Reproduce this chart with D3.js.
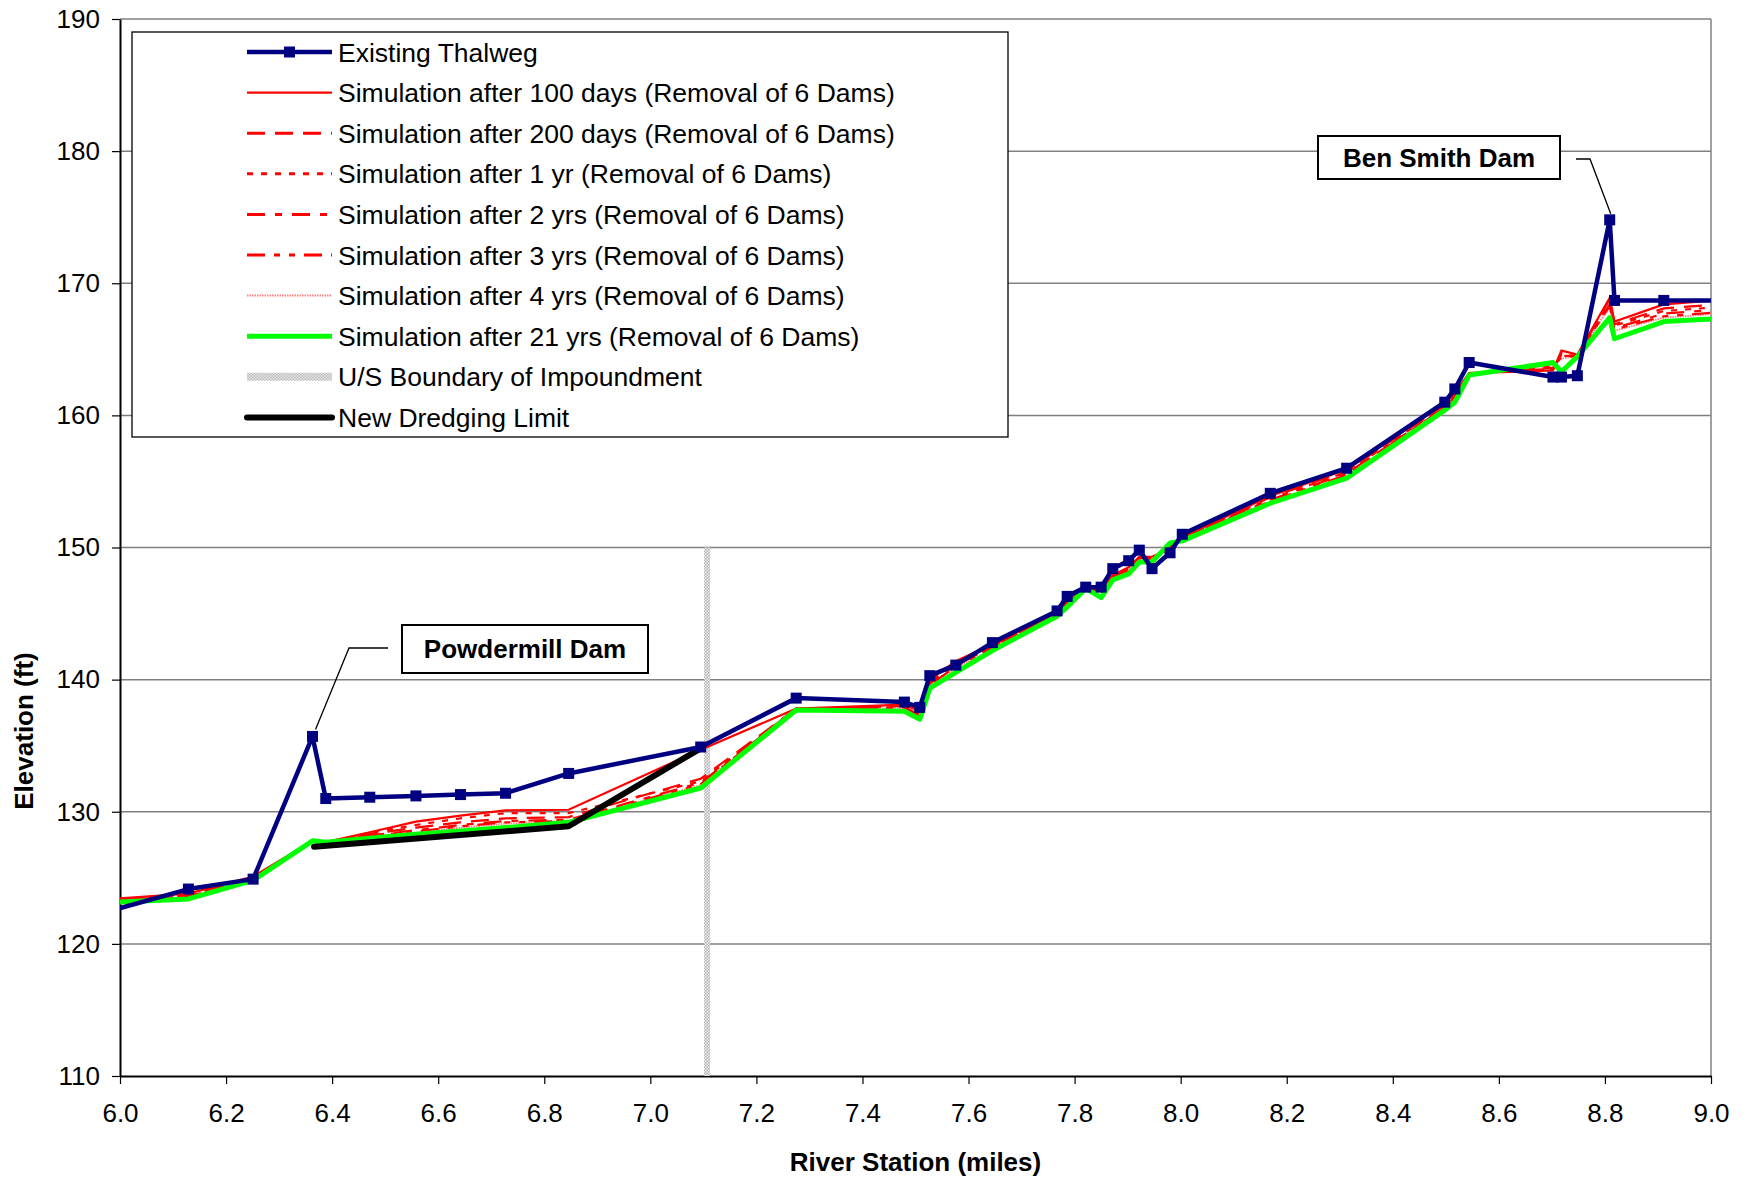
<!DOCTYPE html>
<html>
<head>
<meta charset="utf-8">
<script src="https://cdn.jsdelivr.net/npm/d3@7"></script>
<style>
  body { margin: 0; background: #fff; }
  text { font-family: "Liberation Sans", Arial, sans-serif; fill: #000; }
</style>
</head>
<body>
<div id="chart"></div>
<script>
// river stations (miles); first and last lie just outside the axis and are clipped
const stations = [5.95, 6.129, 6.251, 6.363, 6.388, 6.471, 6.558, 6.642, 6.727, 6.846,
  7.095, 7.275, 7.479, 7.508, 7.527, 7.576, 7.645, 7.767, 7.786, 7.821,
  7.850, 7.872, 7.902, 7.922, 7.946, 7.980, 8.003, 8.169, 8.313, 8.498,
  8.517, 8.544, 8.702, 8.718, 8.748, 8.809, 8.818, 8.911, 9.05];

const thalweg = [122.14, 124.15, 124.9, 135.7, 131.0, 131.1, 131.2, 131.3, 131.4, 132.9,
  134.9, 138.6, 138.3, 137.9, 140.3, 141.1, 142.8, 145.2, 146.3, 147.0,
  147.0, 148.4, 149.0, 149.8, 148.4, 149.6, 151.0, 154.1, 156.0, 161.0,
  162.0, 164.0, 162.9, 162.9, 163.0, 174.8, 168.7, 168.7, 168.7];

const sim100d = [123.31, 123.8, 125.1, 127.8, 127.7, 128.45, 129.25, 129.7, 130.1, 130.15,
  134.7, 137.8, 138.1, 137.6, 140.0, 141.4, 142.7, 145.0, 145.9, 146.9,
  146.8, 147.9, 148.5, 149.3, 149.3, 149.9, 150.8, 153.9, 155.9, 160.9,
  161.7, 163.2, 163.4, 164.9, 164.6, 168.9, 167.1, 168.4, 168.85];

const sim200d = [123.25, 123.7, 125.0, 127.8, 127.7, 128.3, 128.8, 129.2, 129.5, 129.6,
  132.5, 137.8, 138.0, 137.5, 139.9, 141.3, 142.6, 144.95, 145.8, 146.9,
  146.7, 147.8, 148.4, 149.2, 149.2, 150.0, 150.7, 153.8, 155.8, 160.8,
  161.6, 163.2, 163.5, 164.7, 164.5, 168.8, 166.9, 168.1, 168.5];

const sim1yr = [123.2, 123.6, 125.0, 127.8, 127.7, 128.4, 129.0, 129.5, 129.9, 129.9,
  132.3, 137.8, 138.0, 137.4, 139.8, 141.2, 142.5, 144.9, 145.8, 146.9,
  146.6, 147.8, 148.3, 149.1, 149.1, 150.0, 150.7, 153.7, 155.7, 160.7,
  161.5, 163.2, 163.5, 164.6, 164.5, 168.6, 166.8, 167.9, 168.3];

const sim2yr = [123.2, 123.6, 124.9, 127.8, 127.7, 128.2, 128.6, 129.0, 129.3, 129.4,
  132.2, 137.8, 137.9, 137.3, 139.7, 141.1, 142.5, 144.9, 145.7, 146.9,
  146.5, 147.7, 148.3, 149.0, 149.0, 150.1, 150.7, 153.6, 155.6, 160.6,
  161.4, 163.2, 163.6, 164.5, 164.5, 168.4, 166.6, 167.7, 168.1];

const sim3yr = [123.15, 123.5, 124.9, 127.8, 127.7, 128.2, 128.5, 128.9, 129.2, 129.3,
  132.1, 137.8, 137.9, 137.3, 139.6, 141.0, 142.4, 144.9, 145.7, 146.9,
  146.4, 147.7, 148.2, 149.0, 149.0, 150.1, 150.6, 153.5, 155.5, 160.6,
  161.3, 163.1, 163.7, 164.4, 164.5, 168.3, 166.5, 167.5, 167.9];

const sim4yr = [123.1, 123.5, 124.85, 127.8, 127.7, 128.1, 128.4, 128.8, 129.1, 129.3,
  132.0, 137.75, 137.8, 137.2, 139.5, 140.9, 142.3, 144.85, 145.6, 146.9,
  146.3, 147.6, 148.1, 149.0, 149.0, 150.2, 150.6, 153.45, 155.4, 160.5,
  161.2, 163.1, 163.8, 164.3, 164.5, 168.2, 166.4, 167.4, 167.8];

const sim21yr = [123.08, 123.4, 124.8, 127.8, 127.7, 128.0, 128.3, 128.55, 128.8, 129.2,
  131.8, 137.7, 137.6, 137.0, 139.35, 140.55, 142.2, 144.8, 145.5, 146.9,
  146.2, 147.55, 148.0, 148.9, 148.9, 150.35, 150.5, 153.35, 155.25, 160.4,
  161.0, 163.05, 164.0, 163.3, 164.45, 167.4, 165.8, 167.1, 167.4];

const dredgeX = [6.366, 6.846, 7.095];
const dredgeY = [127.35, 128.9, 134.8];

const boundaryX = [7.107, 7.107];
const boundaryY = [110, 150];

const xTicks = [6.0, 6.2, 6.4, 6.6, 6.8, 7.0, 7.2, 7.4, 7.6, 7.8, 8.0, 8.2, 8.4, 8.6, 8.8, 9.0];
const yTicks = [110, 120, 130, 140, 150, 160, 170, 180, 190];

const legendLabels = [
  'Existing Thalweg',
  'Simulation after 100 days (Removal of 6 Dams)',
  'Simulation after 200 days (Removal of 6 Dams)',
  'Simulation after 1 yr (Removal of 6 Dams)',
  'Simulation after 2 yrs (Removal of 6 Dams)',
  'Simulation after 3 yrs (Removal of 6 Dams)',
  'Simulation after 4 yrs (Removal of 6 Dams)',
  'Simulation after 21 yrs (Removal of 6 Dams)',
  'U/S Boundary of Impoundment',
  'New Dredging Limit'
];

const width = 1747;
const height = 1179;
const margin = { top: 19, right: 36, bottom: 103, left: 120 };

const xScale = d3.scaleLinear().domain([6, 9]).range([margin.left, width - margin.right]);
const yScale = d3.scaleLinear().domain([110, 190]).range([height - margin.bottom, margin.top]);

const svg = d3.select('#chart').append('svg')
  .attr('width', width)
  .attr('height', height);

const defs = svg.append('defs');
defs.append('clipPath').attr('id', 'plotclip')
  .append('rect')
  .attr('x', margin.left).attr('y', margin.top)
  .attr('width', width - margin.left - margin.right)
  .attr('height', height - margin.top - margin.bottom);

const hatch = defs.append('pattern').attr('id', 'hatch')
  .attr('width', 3).attr('height', 3).attr('patternUnits', 'userSpaceOnUse');
hatch.append('rect').attr('width', 3).attr('height', 3).attr('fill', '#f2f2f2');
hatch.append('rect').attr('width', 1.5).attr('height', 1.5).attr('fill', '#b0b0b0');
hatch.append('rect').attr('x', 1.5).attr('y', 1.5).attr('width', 1.5).attr('height', 1.5).attr('fill', '#b0b0b0');

/* gridlines */
svg.append('g')
  .selectAll('line')
  .data(yTicks.slice(1))
  .enter()
  .append('line')
  .attr('x1', margin.left).attr('x2', width - margin.right)
  .attr('y1', (d) => yScale(d)).attr('y2', (d) => yScale(d))
  .attr('stroke', '#808080').attr('stroke-width', 1.5);

svg.append('line')
  .attr('x1', width - margin.right).attr('x2', width - margin.right)
  .attr('y1', margin.top).attr('y2', height - margin.bottom)
  .attr('stroke', '#808080').attr('stroke-width', 1.5);

/* axes */
const xAxis = d3.axisBottom(xScale).tickValues(xTicks).tickFormat(d3.format('.1f')).tickSizeInner(8).tickSizeOuter(0).tickPadding(20);
const yAxis = d3.axisLeft(yScale).tickValues(yTicks).tickFormat(d3.format('d')).tickSizeInner(8).tickSizeOuter(0).tickPadding(12);

const gx = svg.append('g')
  .attr('transform', `translate(0, ${height - margin.bottom})`)
  .call(xAxis);
const gy = svg.append('g')
  .attr('transform', `translate(${margin.left}, 0)`)
  .call(yAxis);

[gx, gy].forEach((g) => {
  g.selectAll('path').attr('stroke', '#000').attr('stroke-width', 2);
  g.selectAll('line').attr('stroke', '#000').attr('stroke-width', 1.2);
  g.selectAll('text').style('font-size', '26px').style('font-family', '"Liberation Sans", Arial, sans-serif');
});

svg.append('text')
  .attr('x', xScale(7.5))
  .attr('y', 1171)
  .attr('text-anchor', 'middle')
  .style('font-size', '26px')
  .style('font-weight', 'bold')
  .text('River Station (miles)');

svg.append('text')
  .attr('transform', 'translate(33, 731) rotate(-90)')
  .attr('text-anchor', 'middle')
  .style('font-size', '26px')
  .style('font-weight', 'bold')
  .text('Elevation (ft)');

/* series */
const plot = svg.append('g').attr('clip-path', 'url(#plotclip)');

const line = d3.line()
  .x((d) => xScale(d.x))
  .y((d) => yScale(d.y));

const toPts = (xs, ys) => xs.map((x, i) => ({ x: x, y: ys[i] }));

plot.append('path')
  .attr('d', line(toPts(boundaryX, boundaryY)))
  .attr('stroke', 'url(#hatch)')
  .attr('stroke-width', 6)
  .attr('fill', 'none');

const simSeries = [
  { values: sim4yr, color: '#ff8080', width: 2, dash: '1.5,1' },
  { values: sim3yr, color: '#ff0000', width: 2.2, dash: '18,9,6,9,6,9' },
  { values: sim2yr, color: '#ff0000', width: 2.2, dash: '18,10,7,10' },
  { values: sim1yr, color: '#ff0000', width: 2.2, dash: '6,8' },
  { values: sim200d, color: '#ff0000', width: 2.2, dash: '18,10' },
  { values: sim100d, color: '#ff0000', width: 2.2, dash: null }
];

plot.selectAll('.sim')
  .data(simSeries)
  .enter()
  .append('path')
  .attr('class', 'sim')
  .attr('d', (d) => line(toPts(stations, d.values)))
  .attr('fill', 'none')
  .attr('stroke', (d) => d.color)
  .attr('stroke-width', (d) => d.width)
  .attr('stroke-dasharray', (d) => d.dash);

plot.append('path')
  .attr('d', line(toPts(stations, sim21yr)))
  .attr('fill', 'none')
  .attr('stroke', '#00ff00')
  .attr('stroke-width', 5)
  .attr('stroke-linejoin', 'round');

plot.append('path')
  .attr('d', line(toPts(dredgeX, dredgeY)))
  .attr('fill', 'none')
  .attr('stroke', '#000')
  .attr('stroke-width', 6)
  .attr('stroke-linecap', 'round')
  .attr('stroke-linejoin', 'round');

plot.append('path')
  .attr('d', line(toPts(stations, thalweg)))
  .attr('fill', 'none')
  .attr('stroke', '#000080')
  .attr('stroke-width', 4.5)
  .attr('stroke-linejoin', 'round');

plot.selectAll('.mk')
  .data(toPts(stations, thalweg))
  .enter()
  .append('rect')
  .attr('class', 'mk')
  .attr('x', (d) => xScale(d.x) - 5.5)
  .attr('y', (d) => yScale(d.y) - 5.5)
  .attr('width', 11)
  .attr('height', 11)
  .attr('fill', '#000080');

/* annotations */
const note = (x, y, w, h, label) => {
  svg.append('rect')
    .attr('x', x).attr('y', y).attr('width', w).attr('height', h)
    .attr('fill', '#fff').attr('stroke', '#000').attr('stroke-width', 2);
  svg.append('text')
    .attr('x', x + w / 2).attr('y', y + h / 2 + 9)
    .attr('text-anchor', 'middle')
    .style('font-size', '26px').style('font-weight', 'bold')
    .text(label);
};

svg.append('path')
  .attr('d', `M${xScale(6.363) + 3},${yScale(135.7) - 7} L349,648 L388,648`)
  .attr('fill', 'none').attr('stroke', '#000').attr('stroke-width', 1.3);
note(402, 625, 246, 48, 'Powdermill Dam');

svg.append('path')
  .attr('d', `M1576,159 L1590,159 L${xScale(8.809) + 1},${yScale(174.8) - 6}`)
  .attr('fill', 'none').attr('stroke', '#000').attr('stroke-width', 1.3);
note(1318, 136, 242, 43, 'Ben Smith Dam');

/* legend */
const legend = svg.append('g');
legend.append('rect')
  .attr('x', 132).attr('y', 32).attr('width', 876).attr('height', 405)
  .attr('fill', '#fff').attr('stroke', '#000').attr('stroke-width', 1.3);

const legendStyles = [
  { color: '#000080', width: 4.5, dash: null, marker: true },
  { color: '#ff0000', width: 2.2, dash: null },
  { color: '#ff0000', width: 3, dash: '18,10' },
  { color: '#ff0000', width: 3, dash: '6,8' },
  { color: '#ff0000', width: 3, dash: '18,10,7,10' },
  { color: '#ff0000', width: 3, dash: '18,9,6,9,6,9' },
  { color: '#ff8080', width: 2, dash: '1.5,1' },
  { color: '#00ff00', width: 5, dash: null },
  { color: 'url(#hatch)', width: 8, dash: null },
  { color: '#000', width: 6, dash: null, cap: 'round' }
];

const rowY = (i) => 52 + i * 40.6;

const rows = legend.selectAll('.row')
  .data(legendLabels)
  .enter()
  .append('g')
  .attr('class', 'row')
  .attr('transform', (d, i) => `translate(0, ${rowY(i)})`);

rows.append('line')
  .attr('x1', 247).attr('x2', 332)
  .attr('y1', 0).attr('y2', 0)
  .attr('stroke', (d, i) => legendStyles[i].color)
  .attr('stroke-width', (d, i) => legendStyles[i].width)
  .attr('stroke-dasharray', (d, i) => legendStyles[i].dash)
  .attr('stroke-linecap', (d, i) => legendStyles[i].cap || 'butt');

rows.filter((d, i) => legendStyles[i].marker)
  .append('rect')
  .attr('x', 284).attr('y', -5.5).attr('width', 11).attr('height', 11)
  .attr('fill', '#000080');

rows.append('text')
  .attr('x', 338)
  .attr('y', 9.5)
  .style('font-size', '26.5px')
  .text((d) => d);
</script>
</body>
</html>
